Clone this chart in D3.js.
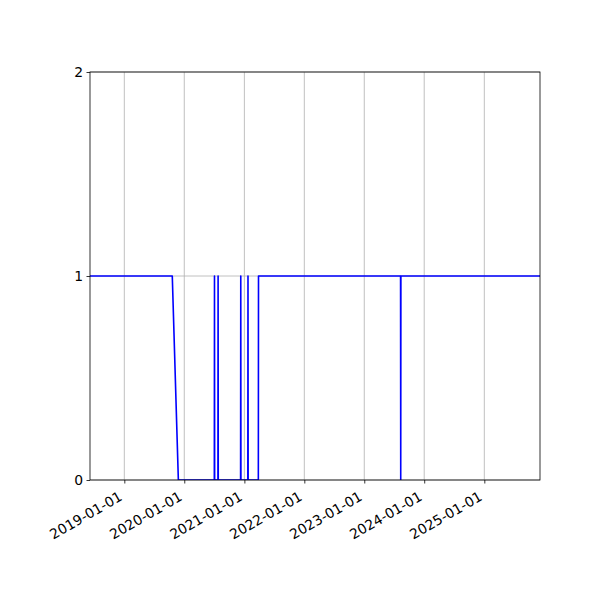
<!DOCTYPE html>
<html>
<head>
<meta charset="utf-8">
<script src="https://cdn.jsdelivr.net/npm/d3@7"></script>
<style>
  body { margin: 0; background: #fff; }
  svg { font-family: "DejaVu Sans", sans-serif; }
</style>
</head>
<body>
<svg id="chart" width="600" height="600"></svg>
<script>
// data (daily spikes are 0 -> 1 -> 0 on consecutive days)
var dates = [
  "2018-06-06", "2019-10-20", "2019-11-26",
  "2020-07-02", "2020-07-03", "2020-07-04",
  "2020-07-24", "2020-07-25", "2020-07-26",
  "2020-12-09", "2020-12-10", "2020-12-11",
  "2021-01-22", "2021-01-23", "2021-01-24",
  "2021-03-27", "2021-03-28",
  "2023-08-10", "2023-08-11", "2023-08-12",
  "2025-12-06"
];
var values = [
  1, 1, 0,
  0, 1, 0,
  0, 1, 0,
  0, 1, 0,
  0, 1, 0,
  0, 1,
  1, 0, 1,
  1
];
var xLimits = ["2018-06-06", "2025-12-06"];
var yTicks = [0, 1, 2];
var xTickDates = ["2019-01-01", "2020-01-01", "2021-01-01", "2022-01-01",
                  "2023-01-01", "2024-01-01", "2025-01-01"];

var parse = d3.utcParse("%Y-%m-%d");
var fmt = d3.utcFormat("%Y-%m-%d");

// axes box, matplotlib-ish (named box* so we don't clash with window.top)
var boxLeft = 90, boxRight = 540, boxTop = 72, boxBottom = 480;
var fontSize = 13.9;

var svg = d3.select('#chart');

var x = d3.scaleUtc()
  .domain(xLimits.map(parse))
  .range([boxLeft, boxRight]);
var y = d3.scaleLinear()
  .domain([0, 2])
  .range([boxBottom, boxTop]);

var pts = dates.map((d, i) => [parse(d), values[i]]);

// grid lines
var grid = svg.append('g').attr('id', 'grid');
grid.selectAll('line.vx').data(xTickDates.map(parse)).enter()
  .append('line')
  .attr('x1', d => x(d)).attr('x2', d => x(d))
  .attr('y1', boxTop).attr('y2', boxBottom)
  .attr('stroke', '#b0b0b0').attr('stroke-width', 0.8);
grid.selectAll('line.hy').data(yTicks).enter()
  .append('line')
  .attr('x1', boxLeft).attr('x2', boxRight)
  .attr('y1', d => y(d)).attr('y2', d => y(d))
  .attr('stroke', '#b0b0b0').attr('stroke-width', 0.8);

// the series
var line = d3.line()
  .x(d => x(d[0]))
  .y(d => y(d[1]));

svg.append('defs').append('clipPath').attr('id', 'clip')
  .append('rect')
  .attr('x', boxLeft).attr('y', boxTop)
  .attr('width', boxRight - boxLeft).attr('height', boxBottom - boxTop);

svg.append('path')
  .datum(pts)
  .attr('clip-path', 'url(#clip)')
  .attr('d', line)
  .attr('fill', 'none')
  .attr('stroke', '#0000ff')
  .attr('stroke-width', 1.6)
  .attr('stroke-linejoin', 'round');

// axes
var xAxis = d3.axisBottom(x)
  .tickValues(xTickDates.map(parse))
  .tickFormat(fmt)
  .tickSize(3.5)
  .tickPadding(3.5);
var yAxis = d3.axisLeft(y)
  .tickValues(yTicks)
  .tickFormat(d3.format('d'))
  .tickSize(3.5)
  .tickPadding(3.5);

var gx = svg.append('g')
  .attr('transform', `translate(0,${boxBottom})`)
  .call(xAxis);
var gy = svg.append('g')
  .attr('transform', `translate(${boxLeft},0)`)
  .call(yAxis);

[gx, gy].forEach(g => {
  g.select('.domain').remove();
  g.selectAll('.tick line').attr('stroke', '#000').attr('stroke-width', 0.8);
  g.selectAll('.tick text')
    .attr('fill', '#000')
    .style('font-size', fontSize + 'px')
    .style('font-family', '"DejaVu Sans", sans-serif');
});

// rotated date labels, right-aligned at the tick
gx.selectAll('.tick text')
  .attr('text-anchor', 'end')
  .attr('y', 0)
  .attr('dy', '0.78em')
  .attr('transform', 'translate(-7,10) rotate(-30)');

// spines
svg.append('rect')
  .attr('x', boxLeft).attr('y', boxTop)
  .attr('width', boxRight - boxLeft).attr('height', boxBottom - boxTop)
  .attr('fill', 'none')
  .attr('stroke', '#000')
  .attr('stroke-width', 0.8);
</script>
</body>
</html>
